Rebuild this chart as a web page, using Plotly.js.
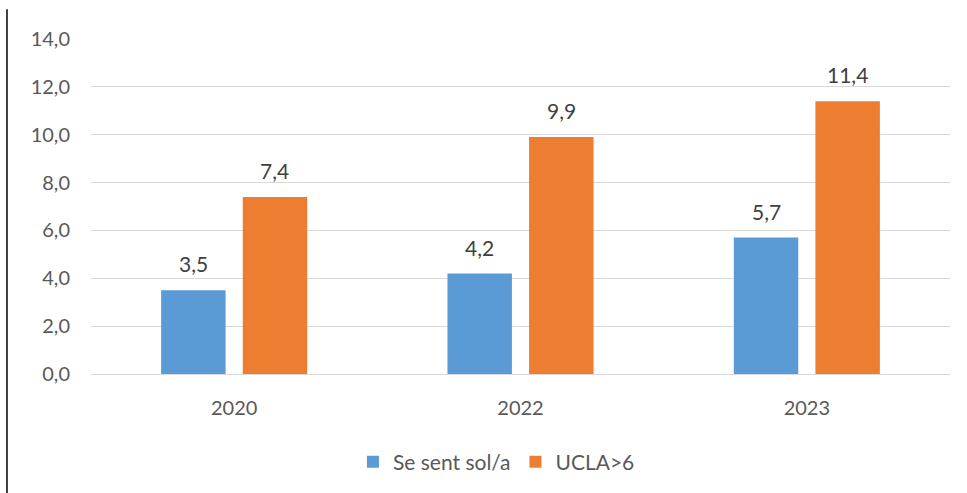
<!DOCTYPE html>
<html>
<head>
<meta charset="utf-8">
<script src="https://cdn.plot.ly/plotly-3.0.1.min.js"></script>
<style>html,body{margin:0;padding:0;background:#fff}#chart{width:967px;height:493px}</style>
</head>
<body>
<div id="chart"></div>
<script>
const categories = ["2020", "2022", "2023"];
const seriesNames = ["Se sent sol/a", "UCLA>6"];
const seSentSol = [3.5, 4.2, 5.7];
const ucla6 = [7.4, 9.9, 11.4];
const yTicks = [0, 2, 4, 6, 8, 10, 12, 14];

const fmt = v => v.toFixed(1).replace('.', ',');
const colors = ["#5B9BD5", "#ED7D31"];
const FONT = 'Lato, "Open Sans", sans-serif';
const W = 967, H = 493, M = {l: 91, r: 17, t: 39, b: 118};
const BARGAP = 0.43, GROUPGAP = 0.21;

const series = [seSentSol, ucla6];
const traces = series.map((vals, i) => ({
  type: 'bar',
  name: seriesNames[i],
  x: categories,
  y: vals,
  marker: {color: colors[i]},
  hoverinfo: 'none'
}));

// data labels positioned on the bars through the axis scales (category index j)
const plotW = W - M.l - M.r;
const slotPx = plotW / categories.length * (1 - BARGAP) / series.length;
const annotations = [];
series.forEach((vals, i) => {
  const shift = (i - (series.length - 1) / 2) * slotPx;
  vals.forEach((v, j) => annotations.push({
    xref: 'x', yref: 'y', x: j, y: v,
    text: fmt(v), showarrow: false, xanchor: 'center', yanchor: 'bottom',
    xshift: shift, yshift: 12,
    font: {family: FONT, size: 21, color: '#404040'}
  }));
});

const layout = {
  width: W, height: H,
  margin: M,
  paper_bgcolor: '#fff', plot_bgcolor: '#fff',
  font: {family: FONT, color: '#595959', size: 20},
  barmode: 'group',
  bargap: BARGAP,
  bargroupgap: GROUPGAP,
  showlegend: true,
  legend: {orientation: 'h', x: 0.472, xanchor: 'center', y: -0.259, yanchor: 'middle',
           font: {size: 21, color: '#595959'}, itemwidth: 30, traceorder: 'normal'},
  xaxis: {type: 'category', range: [-0.5, categories.length - 0.5],
          showgrid: false, zeroline: false, showline: false,
          ticks: '', ticklabelstandoff: 20, tickfont: {size: 20, color: '#595959'}},
  yaxis: {range: [0, 14], tickvals: yTicks, ticktext: yTicks.map(fmt),
          showgrid: true, gridcolor: '#D9D9D9', gridwidth: 1, zeroline: true,
          zerolinecolor: '#D9D9D9', zerolinewidth: 1, showline: false, ticks: '',
          ticklabelstandoff: 20, tickfont: {size: 20, color: '#595959'}},
  annotations: annotations,
  shapes: [{type: 'line', xref: 'paper', yref: 'paper',
            x0: -0.0978, x1: -0.0978, y0: 1.089, y1: -0.36,
            line: {color: '#000', width: 1.5}}]
};

Plotly.newPlot('chart', traces, layout, {displayModeBar: false, staticPlot: true});
</script>
</body>
</html>
